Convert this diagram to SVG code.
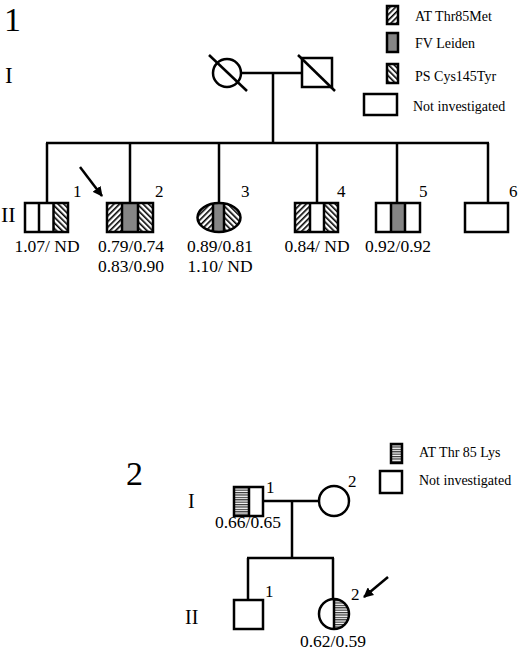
<svg xmlns="http://www.w3.org/2000/svg" width="520" height="650" viewBox="0 0 520 650">
<defs>
<pattern id="at" patternUnits="userSpaceOnUse" width="4" height="4" patternTransform="rotate(45)">
<rect width="4" height="4" fill="#fff"/><rect width="1.6" height="4" fill="#000"/>
</pattern>
<pattern id="ps" patternUnits="userSpaceOnUse" width="4" height="4" patternTransform="rotate(-45)">
<rect width="4" height="4" fill="#fff"/><rect width="1.6" height="4" fill="#000"/>
</pattern>
<pattern id="lys" patternUnits="userSpaceOnUse" width="4" height="2.4">
<rect width="4" height="2.4" fill="#fff"/><rect width="4" height="1.2" fill="#333"/>
</pattern>
<marker id="ah" viewBox="0 0 10 10" refX="9" refY="5" markerWidth="4" markerHeight="4" orient="auto">
<path d="M0,0 L10,5 L0,10 z" fill="#000"/>
</marker>
<clipPath id="c3"><ellipse cx="219" cy="217.5" rx="21.5" ry="14.5"/></clipPath>
<clipPath id="c22"><circle cx="334" cy="614" r="15"/></clipPath>
</defs>
<style>
.s{stroke:#000;stroke-width:2.5;fill:none}
.f{stroke:#000;stroke-width:2.5}
.t{font-family:"Liberation Serif","Times New Roman",serif;fill:#000}
.v{font-size:17.5px;text-anchor:middle}
.n{font-size:17px}
.lg{font-size:14px}
.g{fill:#858585}
</style>

<!-- Part 1 -->
<text class="t" x="4" y="31" font-size="34">1</text>
<text class="t" x="5" y="83" font-size="23">I</text>
<text class="t" x="1" y="222" font-size="22">II</text>

<g id="connectors">
<line class="s" x1="241" y1="73" x2="302" y2="73"/>
<line class="s" x1="273" y1="73" x2="273" y2="143"/>
<line class="s" x1="46" y1="143" x2="489" y2="143"/>
<line class="s" x1="47" y1="143" x2="47" y2="203"/>
<line class="s" x1="130" y1="143" x2="130" y2="203"/>
<line class="s" x1="219" y1="143" x2="219" y2="203"/>
<line class="s" x1="317" y1="143" x2="317" y2="203"/>
<line class="s" x1="397" y1="143" x2="397" y2="203"/>
<line class="s" x1="488" y1="143" x2="488" y2="203"/>
<line class="s" x1="263" y1="501" x2="319" y2="501"/>
<line class="s" x1="292" y1="501" x2="292" y2="558"/>
<line class="s" x1="247" y1="558" x2="334" y2="558"/>
<line class="s" x1="248" y1="558" x2="248" y2="600"/>
<line class="s" x1="333" y1="558" x2="333" y2="599"/>
</g>

<g id="p1-I1">
<circle class="s" cx="227" cy="73" r="14" fill="#fff"/>
<line class="s" x1="209" y1="55" x2="247" y2="91"/>
</g>
<g id="p1-I2">
<rect class="s" x="302" y="58" width="30" height="29"/>
<line class="s" x1="298" y1="55" x2="335" y2="91"/>
</g>

<g id="legend1">
<rect class="f" x="387" y="6" width="11" height="18" fill="url(#at)"/>
<text class="t lg" x="415" y="21">AT Thr85Met</text>
<rect class="f g" x="387" y="33" width="11" height="19"/>
<text class="t lg" x="415" y="48">FV Leiden</text>
<rect class="f" x="387" y="64" width="11" height="19" fill="url(#ps)"/>
<text class="t lg" x="415" y="81">PS Cys145Tyr</text>
<rect class="s" x="364" y="94" width="33" height="21"/>
<text class="t lg" x="413" y="111">Not investigated</text>
</g>

<g id="p1-II1">
<rect x="53.5" y="203" width="14.5" height="29" fill="url(#ps)"/>
<rect class="s" x="25" y="203" width="43" height="29"/>
<line class="s" x1="39" y1="203" x2="39" y2="232"/>
<line class="s" x1="53.5" y1="203" x2="53.5" y2="232"/>
<text class="t n" x="73" y="197">1</text>
<text class="t v" x="47" y="252">1.07/ ND</text>
</g>

<g id="p1-II2">
<rect x="107" y="203" width="15" height="29" fill="url(#at)"/>
<rect class="g" x="122" y="203" width="16" height="29"/>
<rect x="138" y="203" width="15" height="29" fill="url(#ps)"/>
<rect class="s" x="107" y="203" width="46" height="29"/>
<line class="s" x1="122" y1="203" x2="122" y2="232"/>
<line class="s" x1="138" y1="203" x2="138" y2="232"/>
<text class="t n" x="155" y="197">2</text>
<line class="s" x1="80" y1="167" x2="102" y2="196" marker-end="url(#ah)"/>
<text class="t v" x="131" y="252">0.79/0.74</text>
<text class="t v" x="131" y="272">0.83/0.90</text>
</g>

<g id="p1-II3">
<g clip-path="url(#c3)">
<rect x="196" y="202" width="17" height="32" fill="url(#at)"/>
<rect class="g" x="213" y="202" width="11" height="32"/>
<rect x="224" y="202" width="18" height="32" fill="url(#ps)"/>
</g>
<ellipse class="s" cx="219" cy="217.5" rx="21.5" ry="14.5"/>
<line class="s" x1="213" y1="203" x2="213" y2="232"/>
<line class="s" x1="224" y1="203" x2="224" y2="232"/>
<text class="t n" x="241" y="197">3</text>
<text class="t v" x="220" y="252">0.89/0.81</text>
<text class="t v" x="220" y="272">1.10/ ND</text>
</g>

<g id="p1-II4">
<rect x="295" y="203" width="15" height="29" fill="url(#at)"/>
<rect x="324" y="203" width="14" height="29" fill="url(#ps)"/>
<rect class="s" x="295" y="203" width="43" height="29"/>
<line class="s" x1="310" y1="203" x2="310" y2="232"/>
<line class="s" x1="324" y1="203" x2="324" y2="232"/>
<text class="t n" x="337" y="197">4</text>
<text class="t v" x="317" y="252">0.84/ ND</text>
</g>

<g id="p1-II5">
<rect class="g" x="391" y="203" width="14" height="29"/>
<rect class="s" x="376" y="203" width="44" height="29"/>
<line class="s" x1="391" y1="203" x2="391" y2="232"/>
<line class="s" x1="405" y1="203" x2="405" y2="232"/>
<text class="t n" x="419" y="197">5</text>
<text class="t v" x="398" y="252">0.92/0.92</text>
</g>

<g id="p1-II6">
<rect class="s" x="465" y="203" width="43" height="29"/>
<text class="t n" x="509" y="197">6</text>
</g>

<!-- Part 2 -->
<text class="t" x="126" y="485" font-size="34">2</text>
<text class="t" x="188" y="508" font-size="20">I</text>
<text class="t" x="185" y="624" font-size="20">II</text>

<g id="legend2">
<rect class="f" x="391" y="444" width="11" height="19" fill="url(#lys)"/>
<text class="t lg" x="419" y="457">AT Thr 85 Lys</text>
<rect class="s" x="380" y="471" width="22" height="22"/>
<text class="t lg" x="419" y="485">Not investigated</text>
</g>

<g id="p2-I1">
<rect x="234" y="487" width="15" height="29" fill="url(#lys)"/>
<rect class="s" x="234" y="487" width="29" height="29"/>
<line class="s" x1="249" y1="487" x2="249" y2="516"/>
<text class="t n" x="266" y="493">1</text>
<text class="t v" x="248" y="528">0.66/0.65</text>
</g>

<g id="p2-I2">
<circle class="s" cx="334" cy="501" r="15" fill="#fff"/>
<text class="t n" x="348" y="487">2</text>
</g>

<g id="p2-II1">
<rect class="s" x="234" y="600" width="29" height="29"/>
<text class="t n" x="265" y="597">1</text>
</g>

<g id="p2-II2">
<rect x="334" y="598" width="16" height="32" fill="url(#lys)" clip-path="url(#c22)"/>
<circle class="s" cx="334" cy="614" r="15"/>
<line class="s" x1="334" y1="599" x2="334" y2="629"/>
<text class="t n" x="351" y="600">2</text>
<line class="s" x1="388" y1="577" x2="364" y2="597" marker-end="url(#ah)"/>
<text class="t v" x="333" y="647">0.62/0.59</text>
</g>
</svg>
